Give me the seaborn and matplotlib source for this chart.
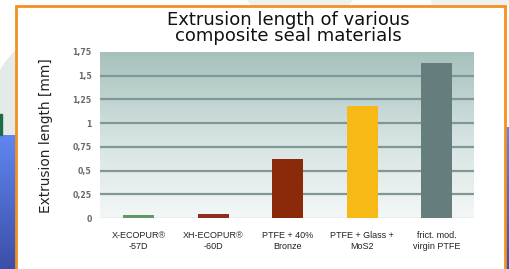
import numpy as np
import pandas as pd
import matplotlib
matplotlib.use("Agg")
import matplotlib.pyplot as plt
import seaborn as sns
from matplotlib.patches import Rectangle, Circle
from matplotlib.colors import LinearSegmentedColormap

categories = ["X-ECOPUR®\n-57D", "XH-ECOPUR®\n-60D", "PTFE + 40%\nBronze",
              "PTFE + Glass +\nMoS2", "frict. mod.\nvirgin PTFE"]
values = [0.03, 0.04, 0.62, 1.18, 1.63]
bar_colors = ["#5c9a6a", "#8e2e20", "#8b2a0a", "#f6b915", "#657d7d"]
yticks = [0, 0.25, 0.5, 0.75, 1, 1.25, 1.5, 1.75]
ytick_labels = ["0", "0,25", "0,5", "0,75", "1", "1,25", "1,5", "1,75"]
title = "Extrusion length of various\ncomposite seal materials"
ylabel = "Extrusion length [mm]"

sns.set_theme(style="white")
plt.rcParams['font.family'] = ['DejaVu Sans']

W, H = 510, 269
fig = plt.figure(figsize=(W / 100, H / 100), dpi=100)
fig.patch.set_facecolor("white")

def fx(px):
    return px / W

def fy(py):
    return 1 - py / H

# decorative background outside the frame
bg = fig.add_axes([0, 0, 1, 1], zorder=-10)
bg.set_xlim(0, W)
bg.set_ylim(H, 0)
bg.axis("off")
bg.add_patch(Circle((70, 110), 80, color="#e4eae8", zorder=0))
bg.add_patch(Circle((300, -30), 60, color="#eef1f0", zorder=0))
bg.add_patch(Circle((470, -10), 40, color="#eef1f0", zorder=0))
grad = np.linspace(0, 1, 100).reshape(-1, 1)
bcmap = LinearSegmentedColormap.from_list("b", ["#5f86f0", "#3c4fa8"])
bg.imshow(grad, cmap=bcmap, extent=(0, 16, H, 135), aspect="auto", zorder=1)
bg.imshow(grad, cmap=bcmap, extent=(505, W, H, 127), aspect="auto", zorder=1)
bg.add_patch(Rectangle((0, 114), 2, 21, color="#1f6b45", zorder=1))
bg.add_patch(Rectangle((16, 6), 489, 280, facecolor="white", edgecolor="#f5901e",
                       linewidth=2, zorder=2))

# main axes
x0, x1, ytop, ybot = 100, 474, 52, 218
ax = fig.add_axes([fx(x0), fy(ybot), fx(x1 - x0), (ybot - ytop) / H], zorder=1)
ax.set_facecolor("none")

df = pd.DataFrame({"material": categories, "value": values})
sns.barplot(data=df, x="material", y="value", hue="material", palette=bar_colors,
            legend=False, width=0.42, ax=ax, zorder=3, saturation=1,
            edgecolor="none")

ax.set_xlim(-0.52, 4.5)
ax.set_ylim(0, 1.75)

# gradient plot background (dark at top, light at bottom)
gcmap = LinearSegmentedColormap.from_list("g", ["#a6c1bd", "#d3e2e0", "#f4f7f7"])
ax.imshow(np.linspace(0, 1, 200).reshape(-1, 1), cmap=gcmap, origin="upper",
          extent=(-0.52, 4.5, 0, 1.75), aspect="auto", zorder=0)
ax.set_xlim(-0.52, 4.5)
ax.set_ylim(0, 1.75)
for t in yticks[1:-1]:
    ax.axhline(t, color="#7f9896", linewidth=1.6, zorder=1)
ax.axhline(0, color="#b8c4c4", linewidth=1.0, zorder=1)

for s in ax.spines.values():
    s.set_visible(False)

ax.set_yticks(yticks)
ax.set_yticklabels(ytick_labels, fontsize=5.6, color="#6a6a6a", fontweight="bold")
ax.tick_params(axis="y", length=0, pad=6)
ax.tick_params(axis="x", length=0, pad=9)
ax.set_xticks(range(len(categories)))
ax.set_xticklabels(categories, fontsize=6.5, family=["Liberation Sans"],
                   color="#222222", linespacing=1.3)
ax.set_xlabel("")
ax.set_ylabel("")

fig.text(fx(46), fy(136), ylabel, rotation=90, ha="center", va="center",
         fontsize=9.8, color="#222222")
fig.text(fx(288), fy(28), title, ha="center", va="center", fontsize=13,
         color="#111111", linespacing=0.8)

fig.savefig("out.png", dpi=100)
